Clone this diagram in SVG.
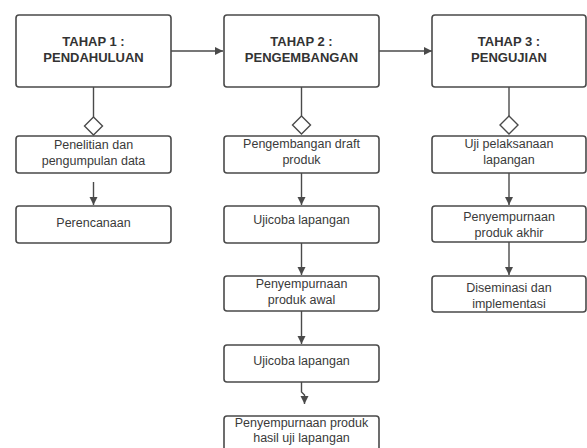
<svg xmlns="http://www.w3.org/2000/svg" width="587" height="448" viewBox="0 0 587 448">
<style>
.box{fill:#fff;stroke:#4a4a4a;stroke-width:1.6}
.t{font-family:"Liberation Sans",Arial,sans-serif;font-size:13px;font-weight:bold;fill:#333;text-anchor:middle}
.b{font-family:"Liberation Sans",Arial,sans-serif;font-size:12.5px;fill:#3a3a3a;text-anchor:middle}
.c{fill:none;stroke:#4a4a4a;stroke-width:1.4}
.d{fill:#fff;stroke:#4a4a4a;stroke-width:1.4}
</style>
<defs>
<marker id="ah" markerUnits="userSpaceOnUse" markerWidth="10" markerHeight="10" viewBox="0 0 10 10" refX="9" refY="5" orient="auto">
<path d="M1 1 L9 5 L1 9 Z" fill="#4a4a4a"/>
</marker>
</defs>
<rect width="587" height="448" fill="#fff"/>
<g id="connectors">
<path class="c" d="M171 51 H223" marker-end="url(#ah)"/>
<path class="c" d="M379 51 H432" marker-end="url(#ah)"/>
<path class="c" d="M93.5 87 V117"/>
<path class="c" d="M301.5 87 V116"/>
<path class="c" d="M509 87 V116"/>
<path class="d" d="M93.5 117 L102.5 126 L93.5 135 L84.5 126 Z"/>
<path class="d" d="M301.5 116 L310.5 125 L301.5 134 L292.5 125 Z"/>
<path class="d" d="M509 116 L518 125 L509 134 L500 125 Z"/>
<path class="c" d="M93.5 182 V205" marker-end="url(#ah)"/>
<path class="c" d="M301.5 173 V205" marker-end="url(#ah)"/>
<path class="c" d="M509 173 V205" marker-end="url(#ah)"/>
<path class="c" d="M301.5 243 V275" marker-end="url(#ah)"/>
<path class="c" d="M509 242 V275" marker-end="url(#ah)"/>
<path class="c" d="M301.5 311 V344" marker-end="url(#ah)"/>
<path class="c" d="M301.5 382 V392 L304.5 395 V404" marker-end="url(#ah)"/>
</g>
<g id="tahap1">
<rect class="box" x="16" y="15" width="155" height="72" rx="3"/>
<text class="t" x="93.5" y="46">TAHAP 1 :</text>
<text class="t" x="93.5" y="62">PENDAHULUAN</text>
</g>
<g id="tahap2">
<rect class="box" x="224" y="15" width="155" height="72" rx="3"/>
<text class="t" x="301.5" y="46">TAHAP 2 :</text>
<text class="t" x="301.5" y="62">PENGEMBANGAN</text>
</g>
<g id="tahap3">
<rect class="box" x="432" y="15" width="154" height="72" rx="3"/>
<text class="t" x="509" y="46">TAHAP 3 :</text>
<text class="t" x="509" y="62">PENGUJIAN</text>
</g>
<g id="penelitian">
<rect class="box" x="16" y="136" width="155" height="37" rx="3"/>
<text class="b" x="93.5" y="148.5">Penelitian dan</text>
<text class="b" x="93.5" y="164.5">pengumpulan data</text>
</g>
<g id="perencanaan">
<rect class="box" x="16" y="206" width="155" height="37" rx="3"/>
<text class="b" x="93.5" y="227">Perencanaan</text>
</g>
<g id="pengembangan-draft">
<rect class="box" x="224" y="136" width="155" height="37" rx="3"/>
<text class="b" x="301.5" y="147.5">Pengembangan draft</text>
<text class="b" x="301.5" y="164">produk</text>
</g>
<g id="ujicoba1">
<rect class="box" x="224" y="206" width="155" height="37" rx="3"/>
<text class="b" x="301.5" y="223.5">Ujicoba lapangan</text>
</g>
<g id="penyempurnaan-awal">
<rect class="box" x="224" y="276" width="155" height="35" rx="3"/>
<text class="b" x="301.5" y="287.5">Penyempurnaan</text>
<text class="b" x="301.5" y="303.5">produk awal</text>
</g>
<g id="ujicoba2">
<rect class="box" x="224" y="345" width="155" height="37" rx="3"/>
<text class="b" x="301.5" y="365">Ujicoba lapangan</text>
</g>
<g id="penyempurnaan-hasil">
<rect class="box" x="224" y="416" width="155" height="36" rx="3"/>
<text class="b" x="301.5" y="426.5">Penyempurnaan produk</text>
<text class="b" x="301.5" y="441.5">hasil uji lapangan</text>
</g>
<g id="uji-pelaksanaan">
<rect class="box" x="432" y="136" width="154" height="37" rx="3"/>
<text class="b" x="509" y="148">Uji pelaksanaan</text>
<text class="b" x="509" y="164">lapangan</text>
</g>
<g id="penyempurnaan-akhir">
<rect class="box" x="432" y="206" width="154" height="36" rx="3"/>
<text class="b" x="509" y="220.5">Penyempurnaan</text>
<text class="b" x="509" y="236.5">produk akhir</text>
</g>
<g id="diseminasi">
<rect class="box" x="432" y="276" width="154" height="36" rx="3"/>
<text class="b" x="509" y="291.5">Diseminasi dan</text>
<text class="b" x="509" y="307.5">implementasi</text>
</g>
</svg>
